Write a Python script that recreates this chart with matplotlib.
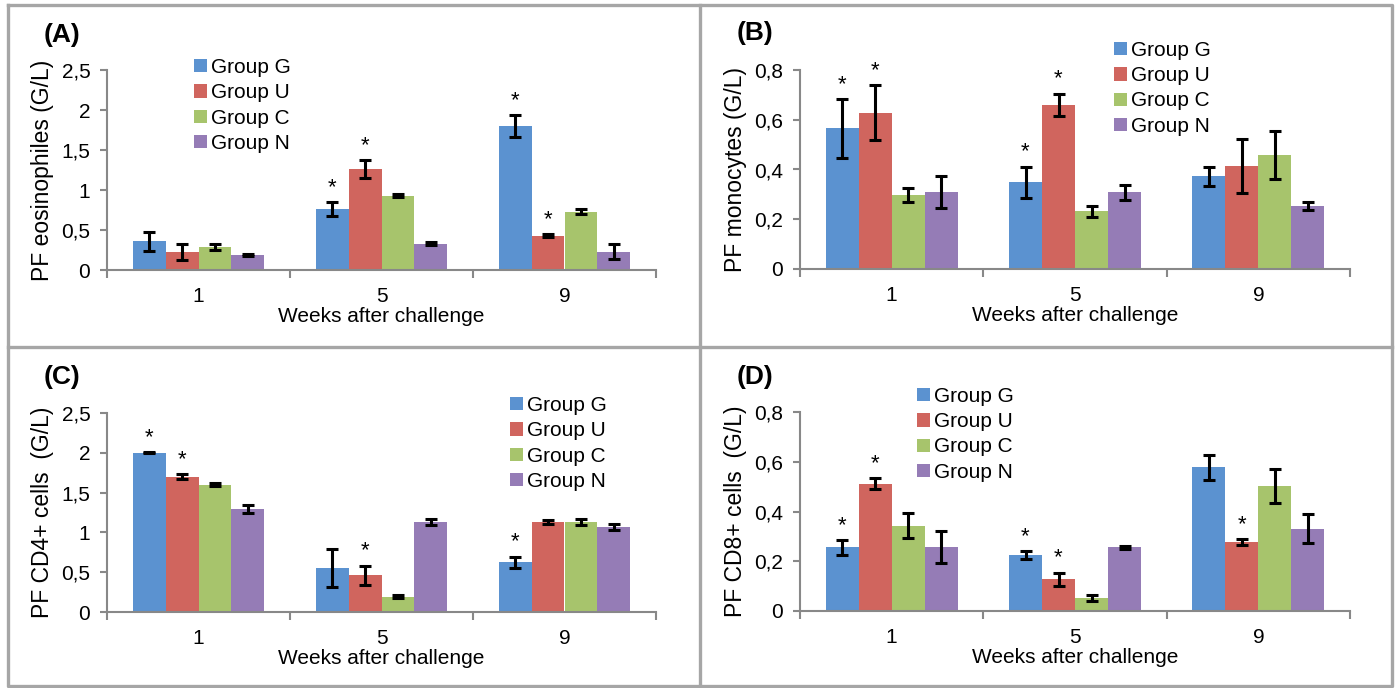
import numpy as np
import matplotlib
matplotlib.use("Agg")
import matplotlib.pyplot as plt
from matplotlib.lines import Line2D

plt.rcParams["font.family"] = ["Liberation Sans", "DejaVu Sans"]

weeks = ["1", "5", "9"]
groups = ["Group G", "Group U", "Group C", "Group N"]
colors = ["#5B92D0", "#D0655E", "#A7C46C", "#957CB6"]

# (A) eosinophiles
eos_mean = [[0.36, 0.76, 1.80], [0.22, 1.26, 0.43], [0.29, 0.93, 0.73], [0.19, 0.33, 0.23]]
eos_err = [[0.12, 0.09, 0.135], [0.10, 0.115, 0.02], [0.04, 0.02, 0.035], [0.01, 0.02, 0.09]]
eos_star = [[0, 1, 1], [0, 1, 1], [0, 0, 0], [0, 0, 0]]

# (B) monocytes
mono_mean = [[0.566, 0.349, 0.372], [0.629, 0.661, 0.415], [0.297, 0.233, 0.459], [0.308, 0.308, 0.254]]
mono_err = [[0.118, 0.063, 0.037], [0.109, 0.044, 0.108], [0.028, 0.022, 0.097], [0.064, 0.031, 0.015]]
mono_star = [[1, 1, 0], [1, 1, 0], [0, 0, 0], [0, 0, 0]]

# (C) CD4+
cd4_mean = [[2.00, 0.556, 0.627], [1.70, 0.46, 1.13], [1.60, 0.19, 1.13], [1.30, 1.13, 1.066]]
cd4_err = [[0.005, 0.24, 0.07], [0.03, 0.12, 0.02], [0.02, 0.02, 0.035], [0.05, 0.035, 0.04]]
cd4_star = [[1, 0, 1], [1, 1, 0], [0, 0, 0], [0, 0, 0]]

# (D) CD8+
cd8_mean = [[0.256, 0.224, 0.578], [0.512, 0.127, 0.277], [0.343, 0.052, 0.503], [0.256, 0.256, 0.331]]
cd8_err = [[0.03, 0.016, 0.05], [0.022, 0.027, 0.012], [0.05, 0.012, 0.067], [0.065, 0.005, 0.059]]
cd8_star = [[1, 1, 0], [1, 1, 1], [0, 0, 0], [0, 0, 0]]

ticks_25 = [0, 0.5, 1, 1.5, 2, 2.5]
ticklabels_25 = ["0", "0,5", "1", "1,5", "2", "2,5"]
ticks_08 = [0, 0.2, 0.4, 0.6, 0.8]
ticklabels_08 = ["0", "0,2", "0,4", "0,6", "0,8"]

W, H = 1396, 688
fig = plt.figure(figsize=(W / 100, H / 100), dpi=100)


def px_ax(x0, x1, ybot, ytop):
    return [x0 / W, 1 - ybot / H, (x1 - x0) / W, (ybot - ytop) / H]


panels = [
    dict(rect=px_ax(107, 656, 270, 70), mean=eos_mean, err=eos_err, star=eos_star,
         ticks=ticks_25, labels=ticklabels_25, ylabel="PF eosinophiles (G/L)",
         tag="(A)", tagpos=(44, 35), leg=(194, 58)),
    dict(rect=px_ax(800, 1350, 269, 70), mean=mono_mean, err=mono_err, star=mono_star,
         ticks=ticks_08, labels=ticklabels_08, ylabel="PF monocytes (G/L)",
         tag="(B)", tagpos=(737, 33), leg=(1114, 41)),
    dict(rect=px_ax(107, 656, 612, 413), mean=cd4_mean, err=cd4_err, star=cd4_star,
         ticks=ticks_25, labels=ticklabels_25, ylabel="PF CD4+ cells  (G/L)",
         tag="(C)", tagpos=(44, 377), leg=(510, 396)),
    dict(rect=px_ax(800, 1350, 611, 412), mean=cd8_mean, err=cd8_err, star=cd8_star,
         ticks=ticks_08, labels=ticklabels_08, ylabel="PF CD8+ cells  (G/L)",
         tag="(D)", tagpos=(737, 377), leg=(917, 387)),
]

x = np.arange(len(weeks))
bw = 0.18
grey = "#888888"

for p in panels:
    ax = fig.add_axes(p["rect"])
    handles = []
    for i, g in enumerate(groups):
        xi = x + (i - 1.5) * bw
        b = ax.bar(xi, p["mean"][i], bw, color=colors[i], label=g, zorder=2)
        handles.append(b)
        ax.errorbar(xi, p["mean"][i], yerr=p["err"][i], fmt="none", ecolor="black",
                    elinewidth=2.2, capsize=4.5, capthick=2.2, zorder=3)
        for j in range(len(weeks)):
            if p["star"][i][j]:
                ax.annotate("*", (xi[j], p["mean"][i][j] + p["err"][i][j]),
                            xytext=(0, 3), textcoords="offset points",
                            ha="center", va="bottom", fontsize=16)
    ax.set_xlim(-0.5, 2.5)
    ax.set_ylim(p["ticks"][0], p["ticks"][-1])
    ax.set_yticks(p["ticks"])
    ax.set_yticklabels(p["labels"])
    ax.set_xticks(x)
    ax.set_xticklabels(weeks)
    ax.set_xticks([-0.5, 0.5, 1.5, 2.5], minor=True)
    ax.tick_params(axis="x", which="major", length=0, pad=12, labelsize=15)
    ax.tick_params(axis="x", which="minor", length=6, width=1.5, color=grey, direction="out")
    ax.tick_params(axis="y", length=5, width=1.5, color=grey, pad=7, labelsize=15)
    for s in ["top", "right"]:
        ax.spines[s].set_visible(False)
    for s in ["left", "bottom"]:
        ax.spines[s].set_color(grey)
        ax.spines[s].set_linewidth(1.5)
    ax.set_xlabel("Weeks after challenge", fontsize=15, labelpad=1)
    ax.set_ylabel(p["ylabel"], fontsize=16.5, labelpad=5)
    fig.text(p["tagpos"][0] / W, 1 - p["tagpos"][1] / H, p["tag"], fontsize=19,
             fontweight="bold", ha="left", va="center")
    fig.legend(handles=handles, labels=groups, loc="upper left",
               bbox_to_anchor=(p["leg"][0] / W, 1 - p["leg"][1] / H),
               frameon=False, fontsize=15, handlelength=0.6, handleheight=0.6,
               handletextpad=0.2, labelspacing=0.3, borderpad=0, borderaxespad=0)

# panel frames
fc = "#A6A6A6"
lw = 2.4
for xs, ys in [([8, 1392, 1392, 8, 8], [5, 5, 686, 686, 5]),
               ([700, 700], [5, 686]),
               ([8, 1392], [347, 347])]:
    fig.add_artist(Line2D([v / W for v in xs], [1 - v / H for v in ys],
                          color=fc, lw=lw, transform=fig.transFigure))

fig.savefig("out.png", dpi=100)
